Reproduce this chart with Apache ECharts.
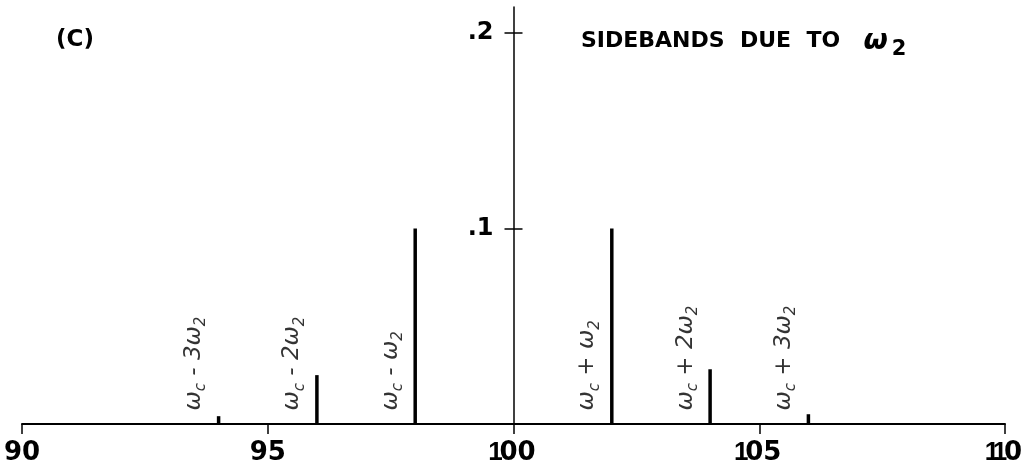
<!DOCTYPE html>
<html>
<head>
<meta charset="utf-8">
<script src="https://cdn.jsdelivr.net/npm/echarts@6/dist/echarts.min.js"></script>
<style>
  html, body { margin: 0; padding: 0; background: #fff; }
  #chart { width: 1028px; height: 473px; }
</style>
</head>
<body>
<div id="chart"></div>
<script>
const freqs = [94, 96, 98, 102, 104, 106];
const amps = [0.004, 0.025, 0.1, 0.1, 0.028, 0.005];
const orders = [-3, -2, -1, 1, 2, 3];
const xTicks = [90, 95, 100, 105, 110];
const yTicks = [0.1, 0.2];

function sideLabel(n) {
  const sign = n < 0 ? ' - ' : ' + ';
  const k = Math.abs(n) === 1 ? '' : String(Math.abs(n));
  return `{w|ω}{s|c}{w|${sign}${k}ω}{s|2}`;
}

// lettering-guide style digits: the "1" is just a narrow stroke
function tickLabel(v) {
  return String(v).split('').map((c) => (c === '1' ? '{one|1}' : `{d|${c}}`)).join('');
}

const ink = '#000';
const font = 'DejaVu Sans';
const gridLeft = 22;
const gridWidth = 983;
const digitStyle = { fontFamily: font, fontSize: 26, fontWeight: 'bold', color: ink };

const chart = echarts.init(document.getElementById('chart'));
chart.setOption({
  backgroundColor: '#fff',
  animation: false,
  title: [
    {
      text: '(C)',
      left: 51,
      top: 24,
      textStyle: { fontFamily: font, fontSize: 23, fontWeight: 'bold', color: ink },
    },
    {
      text: 'SIDEBANDS  DUE  TO  {w|ω}{s|2}',
      left: 576,
      top: 18,
      textStyle: {
        fontFamily: font, fontSize: 22, fontWeight: 'bold', color: ink,
        rich: {
          w: { fontFamily: font, fontSize: 28, fontStyle: 'italic', color: ink, padding: [0, 0, 0, 8] },
          s: { fontFamily: font, fontSize: 21, fontWeight: 'bold', color: ink, verticalAlign: 'bottom', padding: [16, 0, 0, 4] },
        },
      },
    },
  ],
  grid: { left: gridLeft, width: gridWidth, top: 7, bottom: 49, outerBoundsMode: 'none' },
  xAxis: {
    type: 'value',
    min: 90,
    max: 110,
    interval: 5,
    axisLine: { lineStyle: { color: ink, width: 2 } },
    axisTick: { length: 10, lineStyle: { color: ink, width: 1.5 }, customValues: xTicks },
    axisLabel: {
      customValues: xTicks,
      margin: 16,
      formatter: tickLabel,
      rich: {
        d: digitStyle,
        one: { ...digitStyle, fontFamily: 'Liberation Sans', width: 8, align: 'center' },
      },
    },
    splitLine: { show: false },
  },
  yAxis: [
    {
      type: 'value',
      min: 0,
      max: 0.2133,
      position: 'left',
      offset: -gridWidth / 2,
      axisLine: { show: true, lineStyle: { color: ink, width: 1.5 } },
      axisTick: { show: true, length: 9, lineStyle: { color: ink, width: 1.5 }, customValues: yTicks },
      axisLabel: {
        customValues: yTicks,
        margin: 20,
        color: ink,
        fontFamily: font,
        fontSize: 24,
        fontWeight: 'bold',
        formatter: (v) => v.toFixed(1).replace(/^0/, ''),
      },
      splitLine: { show: false },
    },
    {
      type: 'value',
      min: 0,
      max: 0.2133,
      position: 'left',
      offset: -gridWidth / 2,
      axisLine: { show: false },
      axisTick: { show: true, inside: true, length: 9, lineStyle: { color: ink, width: 1.5 }, customValues: yTicks },
      axisLabel: { show: false },
      splitLine: { show: false },
    },
  ],
  series: [
    {
      type: 'bar',
      barWidth: 3.5,
      itemStyle: { color: ink },
      data: freqs.map((f, i) => [f, amps[i]]),
    },
    {
      type: 'scatter',
      symbolSize: 1,
      itemStyle: { color: 'rgba(0,0,0,0)' },
      data: freqs.map((f, i) => ({ value: [f, 0], name: sideLabel(orders[i]) })),
      label: {
        show: true,
        position: [-24, -13],
        rotate: 90,
        align: 'left',
        verticalAlign: 'middle',
        formatter: (p) => p.name,
        rich: {
          w: { fontFamily: font, fontSize: 23, fontStyle: 'italic', color: ink },
          s: { fontFamily: font, fontSize: 15, fontStyle: 'italic', color: ink, verticalAlign: 'bottom', padding: [15, 0, 0, 0] },
        },
      },
    },
  ],
});
</script>
</body>
</html>
